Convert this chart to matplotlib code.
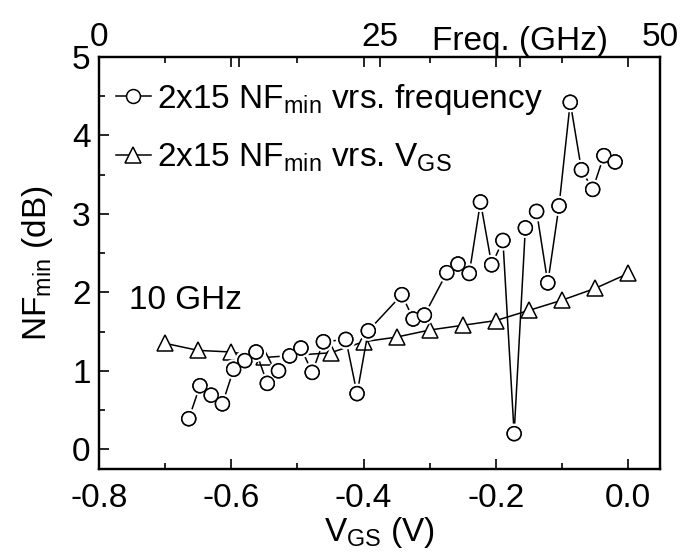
import matplotlib
matplotlib.use("Agg")
import matplotlib.pyplot as plt
from matplotlib.lines import Line2D
from matplotlib.ticker import MultipleLocator, FixedLocator
import matplotlib.patheffects as pe

plt.rcParams['font.family'] = ['Liberation Sans', 'DejaVu Sans']
plt.rcParams['mathtext.fontset'] = 'custom'
plt.rcParams['mathtext.rm'] = 'Liberation Sans'
plt.rcParams['mathtext.it'] = 'Liberation Sans:italic'
plt.rcParams['mathtext.bf'] = 'Liberation Sans:bold'

# NFmin vs frequency (top axis, GHz)
freq_ghz = [8, 9, 10, 11, 12, 13, 14, 15, 16, 17, 18, 19, 20, 22, 23, 24, 27, 28, 29,
            31, 32, 33, 34, 35, 36, 37, 38, 39, 40, 41, 42, 43, 44, 45, 46]
nf_freq = [0.39, 0.81, 0.69, 0.58, 1.02, 1.13, 1.24, 0.84, 1.00, 1.19, 1.29, 0.98, 1.37,
           1.40, 0.71, 1.51, 1.97, 1.66, 1.71, 2.25, 2.36, 2.24, 3.15, 2.35, 2.66, 0.20,
           2.82, 3.03, 2.12, 3.10, 4.42, 3.56, 3.31, 3.74, 3.66]

# NFmin vs VGS (bottom axis, V) at 10 GHz
vgs = [-0.70, -0.65, -0.60, -0.55, -0.45, -0.40, -0.35, -0.30, -0.25, -0.20, -0.15,
       -0.10, -0.05, 0.00]
nf_vgs = [1.35, 1.26, 1.24, 1.17, 1.23, 1.37, 1.43, 1.52, 1.58, 1.64, 1.77, 1.90, 2.05, 2.24]

x_ticks = [-0.8, -0.6, -0.4, -0.2, 0.0]
x_ticklabels = ['-0.8', '-0.6', '-0.4', '-0.2', '0.0']
top_ticks = [0, 25, 50]
top_ticklabels = ['0', '25', '50']
y_ticks = [0, 1, 2, 3, 4, 5]

FS = 24
fig = plt.figure(figsize=(6.81, 5.53), dpi=100)
ax = fig.add_axes([99/681, 1-469/553, (660-99)/681, (469-56.7)/553])
ax.set_xlim(-0.8, 0.048)
ax.set_ylim(-0.25, 5.0)

ax2 = ax.twiny()
ax2.set_xlim(0, 50)

halo = [pe.withStroke(linewidth=4.5, foreground='white')]

# V_GS series (bottom axis)
ax.plot(vgs, nf_vgs, color='black', lw=1.1, zorder=2)
ax.plot(vgs, nf_vgs, ls='none', marker='^', ms=12, mfc='white', mec='black', mew=1.1, zorder=3)

# frequency series (top axis)
ax2.plot(freq_ghz, nf_freq, color='black', lw=1.1, zorder=2)
ax2.plot(freq_ghz, nf_freq, ls='none', marker='o', ms=10, mfc='white', mec='black', mew=1.1,
         zorder=4, path_effects=halo + [pe.Normal()])

# ticks
ax.xaxis.set_major_locator(FixedLocator(x_ticks))
ax.set_xticklabels(x_ticklabels)
ax.xaxis.set_minor_locator(MultipleLocator(0.1))
ax.yaxis.set_major_locator(FixedLocator(y_ticks))
ax.yaxis.set_minor_locator(MultipleLocator(0.5))
ax.tick_params(axis='both', which='both', direction='in', labelsize=FS, width=1.2)
ax.tick_params(axis='x', which='both', top=True)
ax.tick_params(which='major', length=7)
ax.tick_params(which='minor', length=4)
ax.tick_params(axis='x', pad=10)
ax.tick_params(axis='y', pad=6)

ax2.xaxis.set_major_locator(FixedLocator(top_ticks))
ax2.set_xticklabels(top_ticklabels)
ax2.xaxis.set_minor_locator(MultipleLocator(12.5))
ax2.tick_params(axis='x', which='both', direction='in', labelsize=FS, width=1.2, pad=3)
ax2.tick_params(which='major', length=7)
ax2.tick_params(which='minor', length=7)

for a in (ax, ax2):
    for s in a.spines.values():
        s.set_linewidth(1.6)

ax.set_xlabel(r'V$_{\rm GS}$ (V)', fontsize=FS, labelpad=1)
ax.set_ylabel(r'NF$_{\rm min}$ (dB)', fontsize=FS, labelpad=12)

ax2.text(37.5, 1.0, 'Freq. (GHz)', transform=ax2.get_xaxis_transform(), fontsize=FS,
         ha='center', va='bottom')
ax.text(-0.755, 1.9, '10 GHz', fontsize=FS, ha='left', va='center')

handles = [
    Line2D([], [], color='black', lw=1.1, marker='o', ms=10, mfc='white', mec='black', mew=1.1),
    Line2D([], [], color='black', lw=1.1, marker='^', ms=12, mfc='white', mec='black', mew=1.1),
]
labels = [r'2x15 NF$_{\rm min}$ vrs. frequency', r'2x15 NF$_{\rm min}$ vrs. V$_{\rm GS}$']
ax.legend(handles, labels, loc='upper left', frameon=False, fontsize=FS, handlelength=1.05,
          handletextpad=0.2, labelspacing=0.75, borderaxespad=0.1,
          bbox_to_anchor=(0.0, 0.98))

fig.savefig('out.png', dpi=100)
